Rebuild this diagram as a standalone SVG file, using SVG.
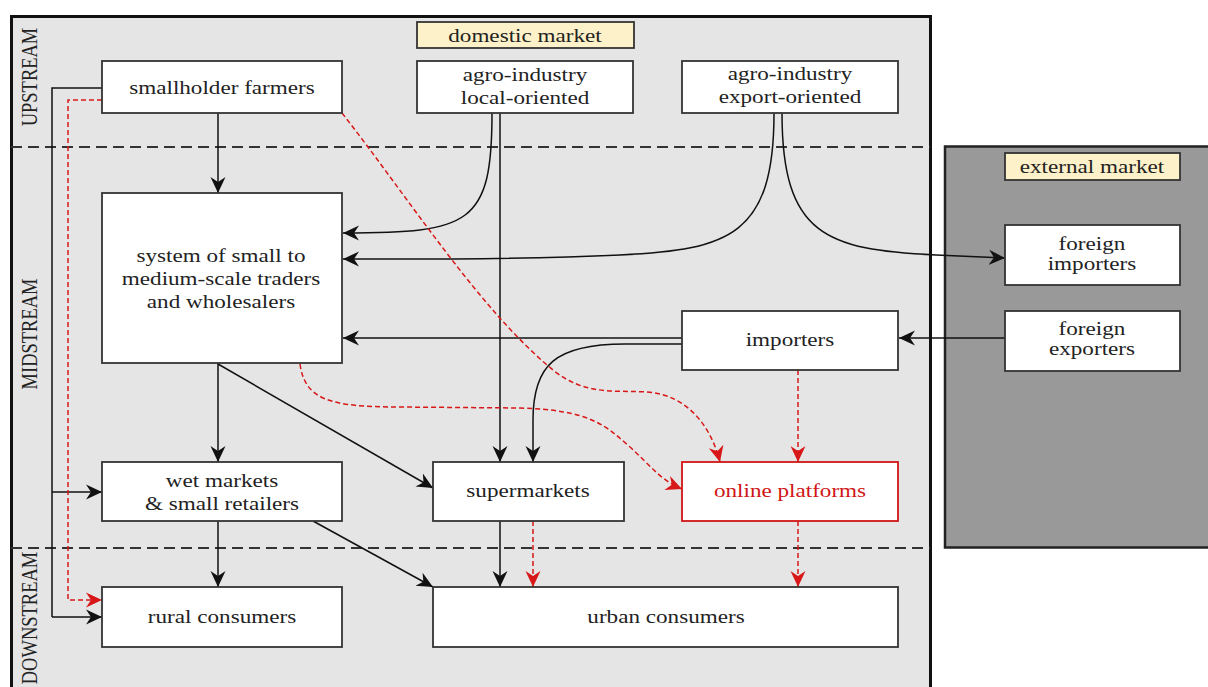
<svg xmlns="http://www.w3.org/2000/svg" width="1208" height="687" viewBox="0 0 1208 687">
<defs>
<style>
.panel{fill:#e5e5e5;stroke:#111;stroke-width:3}
.ext{fill:#999;stroke:#222;stroke-width:2.5}
.sep{stroke:#333;stroke-width:2;stroke-dasharray:11 6;fill:none}
.box{fill:#fff;stroke:#333;stroke-width:1.8}
.rbox{fill:#fff;stroke:#d01515;stroke-width:1.8}
.lab{fill:#fdf1c9;stroke:#333;stroke-width:1.8}
.t{font-family:"Liberation Serif","Times New Roman",serif;font-size:18.5px;fill:#222;text-anchor:middle}
.rt{fill:#d01515}
.side{font-family:"Liberation Serif","Times New Roman",serif;font-size:18.5px;fill:#222;text-anchor:middle}
.c{fill:none;stroke:#111;stroke-width:1.5;marker-end:url(#ah)}
.cn{fill:none;stroke:#111;stroke-width:1.5}
.r{fill:none;stroke:#d81818;stroke-width:1.5;stroke-dasharray:5 3;marker-end:url(#rh)}
.rn{fill:none;stroke:#d81818;stroke-width:1.5;stroke-dasharray:5 3}
</style>
<marker id="ah" viewBox="0 -8 16 16" markerWidth="16" markerHeight="16" refX="16" refY="0" orient="auto" markerUnits="userSpaceOnUse"><path d="M0,-7.5 L16,0 L0,7.5 L5,0 Z" fill="#111"/></marker>
<marker id="rh" viewBox="0 -8 16 16" markerWidth="16" markerHeight="16" refX="16" refY="0" orient="auto" markerUnits="userSpaceOnUse"><path d="M0,-7.5 L16,0 L0,7.5 L5,0 Z" fill="#d81818"/></marker>
</defs>
<rect x="0" y="0" width="1208" height="687" fill="#fff"/>
<g id="domestic-panel">
<rect class="panel" x="11.5" y="16.5" width="919" height="700"/>
</g>
<g id="external-panel">
<rect class="ext" x="945" y="146.5" width="300" height="401"/>
</g>
<g id="separators">
<line class="sep" x1="11" y1="147" x2="930" y2="147"/>
<line class="sep" x1="11" y1="548" x2="930" y2="548"/>
</g>
<g id="stream-labels">
<text class="side" transform="translate(37 77) scale(1.3 1) rotate(-90)">UPSTREAM</text>
<text class="side" transform="translate(37 334) scale(1.3 1) rotate(-90)">MIDSTREAM</text>
<text class="side" transform="translate(37 618) scale(1.3 1) rotate(-90)">DOWNSTREAM</text>
</g>
<g id="connectors">
<path class="c" d="M218,113 L218,193"/>
<path class="cn" d="M102,88 L52,88 L52,617"/>
<path class="c" d="M52,617 L102,617"/>
<path class="c" d="M52,492 L102,492"/>
<path class="r" d="M102,100 L68,100 L68,600 L102,600"/>
<path class="c" d="M492,113 C492,225 470,233 343,233"/>
<path class="c" d="M500,113 L500,462"/>
<path class="c" d="M774,113 C774,235 730,250 620,255 S420,259 343,259"/>
<path class="c" d="M782,113 C782,235 826,250 936,255 L1005,258"/>
<path class="c" d="M682,338 L343,338"/>
<path class="c" d="M1005,338 L899,338"/>
<path class="c" d="M682,344 L625,344 C555,344 533,365 533,420 L533,462"/>
<path class="c" d="M218,363 L218,462"/>
<path class="c" d="M218,364 L433,488"/>
<path class="c" d="M218,521 L218,587"/>
<path class="c" d="M313,521 L433,587"/>
<path class="c" d="M500,521 L500,587"/>
<path class="r" d="M533,521 L533,587"/>
<path class="r" d="M798,370 L798,462"/>
<path class="r" d="M798,521 L798,587"/>
<path class="r" d="M342,113 C410,200 480,310 553,370 C585,396 615,390 647,392 C690,395 712,430 720,462"/>
<path class="r" d="M300,364 C305,400 330,407 400,407 L520,408 C590,410 605,425 630,447 C650,465 660,480 682,489"/>
</g>
<g id="domestic-market">
<rect class="lab" x="417" y="22" width="217" height="26"/>
<text class="t" transform="translate(525 42) scale(1.25 1)">domestic market</text>
</g>
<g id="external-market">
<rect class="lab" x="1005" y="153" width="175" height="27"/>
<text class="t" transform="translate(1092 173) scale(1.25 1)">external market</text>
</g>
<g id="smallholder-farmers">
<rect class="box" x="102" y="61" width="240" height="52"/>
<text class="t" transform="translate(222 94) scale(1.25 1)">smallholder farmers</text>
</g>
<g id="agro-local">
<rect class="box" x="417" y="61" width="216" height="52"/>
<text class="t" transform="translate(525 81) scale(1.25 1)">agro-industry</text>
<text class="t" transform="translate(525 104) scale(1.25 1)">local-oriented</text>
</g>
<g id="agro-export">
<rect class="box" x="682" y="61" width="216" height="52"/>
<text class="t" transform="translate(790 80) scale(1.25 1)">agro-industry</text>
<text class="t" transform="translate(790 103) scale(1.25 1)">export-oriented</text>
</g>
<g id="traders-wholesalers">
<rect class="box" x="102" y="193" width="240" height="170"/>
<text class="t" transform="translate(221 262) scale(1.25 1)">system of small to</text>
<text class="t" transform="translate(221 285) scale(1.25 1)">medium-scale traders</text>
<text class="t" transform="translate(221 308) scale(1.25 1)">and wholesalers</text>
</g>
<g id="importers">
<rect class="box" x="682" y="311" width="216" height="59"/>
<text class="t" transform="translate(790 346) scale(1.25 1)">importers</text>
</g>
<g id="foreign-importers">
<rect class="box" x="1005" y="225" width="175" height="60"/>
<text class="t" transform="translate(1092 250) scale(1.25 1)">foreign</text>
<text class="t" transform="translate(1092 270) scale(1.25 1)">importers</text>
</g>
<g id="foreign-exporters">
<rect class="box" x="1005" y="311" width="175" height="60"/>
<text class="t" transform="translate(1092 335) scale(1.25 1)">foreign</text>
<text class="t" transform="translate(1092 355) scale(1.25 1)">exporters</text>
</g>
<g id="wet-markets">
<rect class="box" x="102" y="462" width="240" height="59"/>
<text class="t" transform="translate(222 487) scale(1.25 1)">wet markets</text>
<text class="t" transform="translate(222 510) scale(1.25 1)">&amp; small retailers</text>
</g>
<g id="supermarkets">
<rect class="box" x="433" y="462" width="191" height="59"/>
<text class="t" transform="translate(528 497) scale(1.25 1)">supermarkets</text>
</g>
<g id="online-platforms">
<rect class="rbox" x="682" y="462" width="216" height="59"/>
<text class="t rt" transform="translate(790 497) scale(1.25 1)">online platforms</text>
</g>
<g id="rural-consumers">
<rect class="box" x="102" y="587" width="240" height="60"/>
<text class="t" transform="translate(222 623) scale(1.25 1)">rural consumers</text>
</g>
<g id="urban-consumers">
<rect class="box" x="433" y="587" width="465" height="60"/>
<text class="t" transform="translate(666 623) scale(1.25 1)">urban consumers</text>
</g>
</svg>
